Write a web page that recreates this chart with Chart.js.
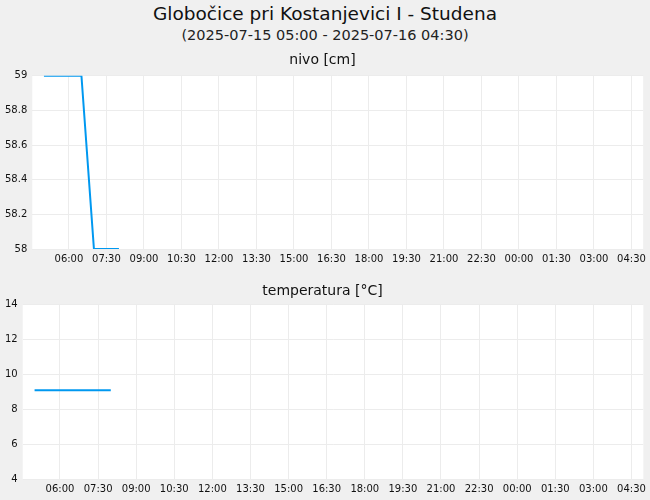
<!DOCTYPE html>
<html>
<head>
<meta charset="utf-8">
<script src="https://cdn.jsdelivr.net/npm/chart.js@4/dist/chart.umd.min.js"></script>
<style>
  body { margin: 0; background: #f0f0f0; font-family: "DejaVu Sans", sans-serif; color: #111; }
  #head { width: 650px; height: 46px; text-align: center; }
  #title { font-size: 18.5px; padding-top: 4px; line-height: 20px; }
  #sub { font-size: 14.5px; line-height: 21px; padding-top: 1px; color: #222; }
  .box { width: 650px; position: relative; }
</style>
</head>
<body>
<div id="head">
  <div id="title">Globočice pri Kostanjevici I - Studena</div>
  <div id="sub">(2025-07-15 05:00 - 2025-07-16 04:30)</div>
</div>
<div class="box" style="height:224px"><canvas id="nivoChart"></canvas></div>
<div class="box" style="height:230px"><canvas id="tempChart"></canvas></div>
<script>
// minutes since 2025-07-15 05:00, every half hour
const times = [0, 30, 60, 90, 120, 150, 180];
const nivo = [59, 59, 59, 59, 58, 58, 58];
const temperatura = [9.1, 9.1, 9.1, 9.1, 9.1, 9.1, 9.1];
// x tick positions (minutes since 05:00): 06:00 ... 04:30 every 90 min
const tickMinutes = [60, 150, 240, 330, 420, 510, 600, 690, 780, 870, 960, 1050, 1140, 1230, 1320, 1410];

const lineColor = "#0098f0";
const gridColor = "#ececec";

function fmt(min){
    let total = (5 * 60 + min) % (24 * 60);
    let h = Math.floor(total / 60);
    let m = total % 60;
    return String(h).padStart(2, "0") + ":" + String(m).padStart(2, "0");
}

function points(values){
    let out = [];
    for(var i = 0; i < times.length; i++){
        out.push({x: times[i], y: values[i]});
    }
    return out;
}

function makeChart(id, title, values, yMin, yMax, yStep, titlePad){
    return new Chart(id, {
        type: "line",
        data: {
            datasets: [{
                data: points(values),
                borderColor: lineColor,
                borderWidth: 2,
                pointRadius: 0,
                tension: 0,
                fill: false
            }]
        },
        options: {
            responsive: true,
            maintainAspectRatio: false,
            animation: false,
            layout: { padding: { left: 0, right: 5, bottom: 1 } },
            plugins: {
                legend: { display: false },
                tooltip: { enabled: false },
                title: {
                    display: true,
                    text: title,
                    color: "#111",
                    font: { family: "DejaVu Sans", size: 14, weight: "normal" },
                    padding: titlePad
                }
            },
            scales: {
                x: {
                    type: "linear",
                    min: -28,
                    max: 1438,
                    afterBuildTicks: function(axis){
                        axis.ticks = tickMinutes.map(v => ({value: v}));
                    },
                    ticks: {
                        autoSkip: false,
                        maxRotation: 0,
                        color: "#111",
                        padding: 4,
                        font: { family: "DejaVu Sans", size: 10 },
                        callback: function(v){ return fmt(v); }
                    },
                    grid: { color: gridColor, drawTicks: false },
                    border: { display: false }
                },
                y: {
                    min: yMin,
                    max: yMax,
                    ticks: {
                        stepSize: yStep,
                        color: "#111",
                        padding: 5,
                        font: { family: "DejaVu Sans", size: 10 },
                        callback: function(v){ return String(Math.round(v * 10) / 10); }
                    },
                    grid: { color: gridColor, drawTicks: false },
                    border: { display: false }
                }
            }
        },
        plugins: [{
            id: "plotBg",
            beforeDraw: function(chart){
                const a = chart.chartArea;
                const ctx = chart.ctx;
                ctx.save();
                ctx.fillStyle = "#ffffff";
                ctx.fillRect(a.left, a.top, a.right - a.left, a.bottom - a.top);
                ctx.restore();
            }
        }]
    });
}

makeChart("nivoChart", "nivo [cm]", nivo, 58, 59, 0.2, { top: 6, bottom: 7 });
makeChart("tempChart", "temperatura [°C]", temperatura, 4, 14, 2, { top: 13, bottom: 5 });
</script>
</body>
</html>
